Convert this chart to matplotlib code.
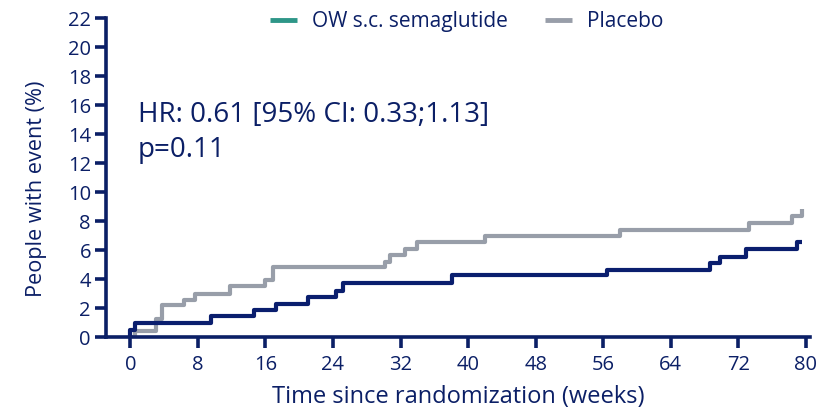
#!/usr/bin/env python3
"""Cumulative incidence of events: once-weekly s.c. semaglutide vs placebo."""
import matplotlib

matplotlib.use("Agg")
import matplotlib.pyplot as plt
from matplotlib.lines import Line2D

NAVY = "#0b1f66"
LINE_NAVY = "#0a1e6e"
GREY = "#989ea9"
TEAL = "#2e9688"

# step times (weeks) and cumulative % with event after each step
sema_weeks = [0, 0.6, 9.5, 14.6, 17.2, 21.1, 24.3, 25.2, 38.1, 56.4, 68.6, 69.8, 72.9, 79.0, 79.6]
sema_pct = [0.5, 0.95, 1.45, 1.85, 2.3, 2.75, 3.2, 3.75, 4.25, 4.65, 5.1, 5.5, 6.1, 6.55, 6.55]

placebo_weeks = [0, 0.6, 3.1, 3.8, 6.3, 7.7, 11.8, 16.0, 16.9, 30.2, 30.7, 32.5, 34.0, 42.0,
                 58.0, 73.3, 78.3, 79.6]
placebo_pct = [0, 0.4, 1.25, 2.2, 2.55, 3.0, 3.5, 3.9, 4.8, 5.2, 5.65, 6.1, 6.55, 7.0,
               7.4, 7.9, 8.35, 8.8]

x_ticks = list(range(0, 81, 8))
y_ticks = list(range(0, 23, 2))

series_labels = ["OW s.c. semaglutide", "Placebo"]
hr_line = "HR: 0.61 [95% CI: 0.33;1.13]"
p_line = "p=0.11"

plt.rcParams["font.family"] = ["Open Sans", "DejaVu Sans"]

fig = plt.figure(figsize=(8.3, 4.12), dpi=100)
ax = fig.add_axes([0.128, 0.182, 0.848, 0.774])

ax.step(placebo_weeks, placebo_pct, where="post", color=GREY, lw=3.0,
        solid_capstyle="butt", zorder=2)
ax.step([-0.2] + sema_weeks, [0] + sema_pct, where="post", color=LINE_NAVY, lw=3.0,
        solid_capstyle="butt", zorder=3)

ax.set_xlim(-2.85, 80.5)
ax.set_ylim(0, 22)
ax.set_xticks(x_ticks)
ax.set_yticks(y_ticks)

for side in ("top", "right"):
    ax.spines[side].set_visible(False)
for side in ("left", "bottom"):
    ax.spines[side].set_color(NAVY)
    ax.spines[side].set_linewidth(2.6)
    ax.spines[side].set_zorder(4)

ax.tick_params(axis="both", colors=NAVY, width=2.6, length=8, labelsize=14.5,
               direction="out")
ax.tick_params(axis="x", pad=5)
ax.tick_params(axis="y", pad=3)

ax.set_xlabel("Time since randomization (weeks)", fontsize=17, color=NAVY)
ax.set_ylabel("People with event (%)", fontsize=15.6, color=NAVY)
ax.xaxis.set_label_coords(0.5, -0.152)
ax.yaxis.set_label_coords(-0.084, 0.464)

ax.text(0.9, 15.3, hr_line, fontsize=20, color=NAVY, va="center", ha="left")
ax.text(0.9, 12.9, p_line, fontsize=20, color=NAVY, va="center", ha="left")

handles = [
    Line2D([], [], color=TEAL, lw=3.5, solid_capstyle="butt"),
    Line2D([], [], color=GREY, lw=3.5, solid_capstyle="butt"),
]
ax.legend(handles, series_labels, loc="upper center", bbox_to_anchor=(0.512, 1.08),
          ncol=2, frameon=False, fontsize=15, handlelength=1.3,
          handletextpad=0.72, columnspacing=1.8, labelcolor=NAVY)

fig.savefig("out.png", dpi=100)
